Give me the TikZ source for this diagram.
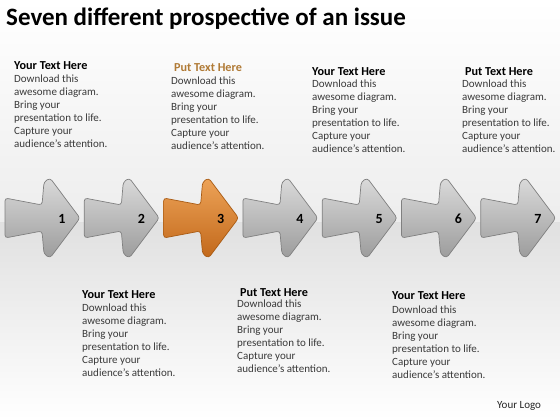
\documentclass[tikz,border=0pt]{standalone}
\usepackage{fontspec}
\setmainfont{Carlito}
\definecolor{txt}{HTML}{3A3A3A}
\definecolor{gold}{HTML}{B07A35}
\definecolor{gtop}{HTML}{DADADA}
\definecolor{gbot}{HTML}{9C9C9C}
\definecolor{gline}{HTML}{808080}
\definecolor{otop}{HTML}{EDA358}
\definecolor{obot}{HTML}{C2681A}
\definecolor{oline}{HTML}{A85A12}
\begin{document}
\begin{tikzpicture}[x=1pt,y=-1pt]
\tikzset{
  grayarrow/.style={top color=gtop, bottom color=gbot, draw=gline, line width=0.7pt, rounded corners=3pt},
  orangearrow/.style={top color=otop, bottom color=obot, draw=oline, line width=0.7pt, rounded corners=3pt},
  num/.style={font=\bfseries\fontsize{14}{16}\selectfont, inner sep=0},
  headtxt/.style={anchor=west, font=\bfseries\fontsize{12.2}{14}\selectfont, inner sep=0},
  bodytxt/.style={anchor=north west, align=left, font=\fontsize{11}{13}\selectfont, text=txt, inner sep=0},
}
\useasboundingbox (0,0) rectangle (560,420);
\shade[top color=white, bottom color=black!7] (0,0) rectangle (560,222);
\shade[top color=black!12, bottom color=white] (0,222) rectangle (560,420);
% title
\node[anchor=base west, inner sep=0, font=\bfseries\fontsize{25}{28}\selectfont] (title) at (6,26) {Seven different prospective of an issue};
% arrows
\foreach \i in {1,...,7}{
  \pgfmathsetmacro{\xo}{5+79.3*(\i-1)}
  \ifnum\i=3 \def\st{orangearrow}\else\def\st{grayarrow}\fi
  \draw[\st] (\xo,198) -- ++(37,7) -- ++(2,-23) -- ++(6,-4) -- (\xo+75,218) -- (\xo+45,258) -- ++(-6,-4) -- ++(-2,-23) -- (\xo,238) -- cycle;
  \node[num] (n\i) at (\xo+57,219) {\i};
}
% top texts
\node[headtxt] (h1) at (14,65.5) {Your Text Here};
\node[bodytxt] (b1) at (14,74.6) {Download this\\awesome diagram.\\Bring your\\presentation to life.\\Capture your\\audience’s attention.};
\node[headtxt, text=gold] (h2) at (174,67.5) {Put Text Here};
\node[bodytxt] (b2) at (171,76.6) {Download this\\awesome diagram.\\Bring your\\presentation to life.\\Capture your\\audience’s attention.};
\node[headtxt] (h3) at (312,71.5) {Your Text Here};
\node[bodytxt] (b3) at (312,79.6) {Download this\\awesome diagram.\\Bring your\\presentation to life.\\Capture your\\audience’s attention.};
\node[headtxt] (h4) at (465,71.5) {Put Text Here};
\node[bodytxt] (b4) at (462,79.6) {Download this\\awesome diagram.\\Bring your\\presentation to life.\\Capture your\\audience’s attention.};
% bottom texts
\node[headtxt] (h5) at (82,294.5) {Your Text Here};
\node[bodytxt] (b5) at (82,303.6) {Download this\\awesome diagram.\\Bring your\\presentation to life.\\Capture your\\audience’s attention.};
\node[headtxt] (h6) at (240,292.5) {Put Text Here};
\node[bodytxt] (b6) at (237,299.8) {Download this\\awesome diagram.\\Bring your\\presentation to life.\\Capture your\\audience’s attention.};
\node[headtxt] (h7) at (392,295.5) {Your Text Here};
\node[bodytxt] (b7) at (392,305.6) {Download this\\awesome diagram.\\Bring your\\presentation to life.\\Capture your\\audience’s attention.};
\node[anchor=west, inner sep=0, font=\fontsize{11}{13}\selectfont, text=black!85] (logo) at (497,406) {Your Logo};
\end{tikzpicture}
\end{document}
